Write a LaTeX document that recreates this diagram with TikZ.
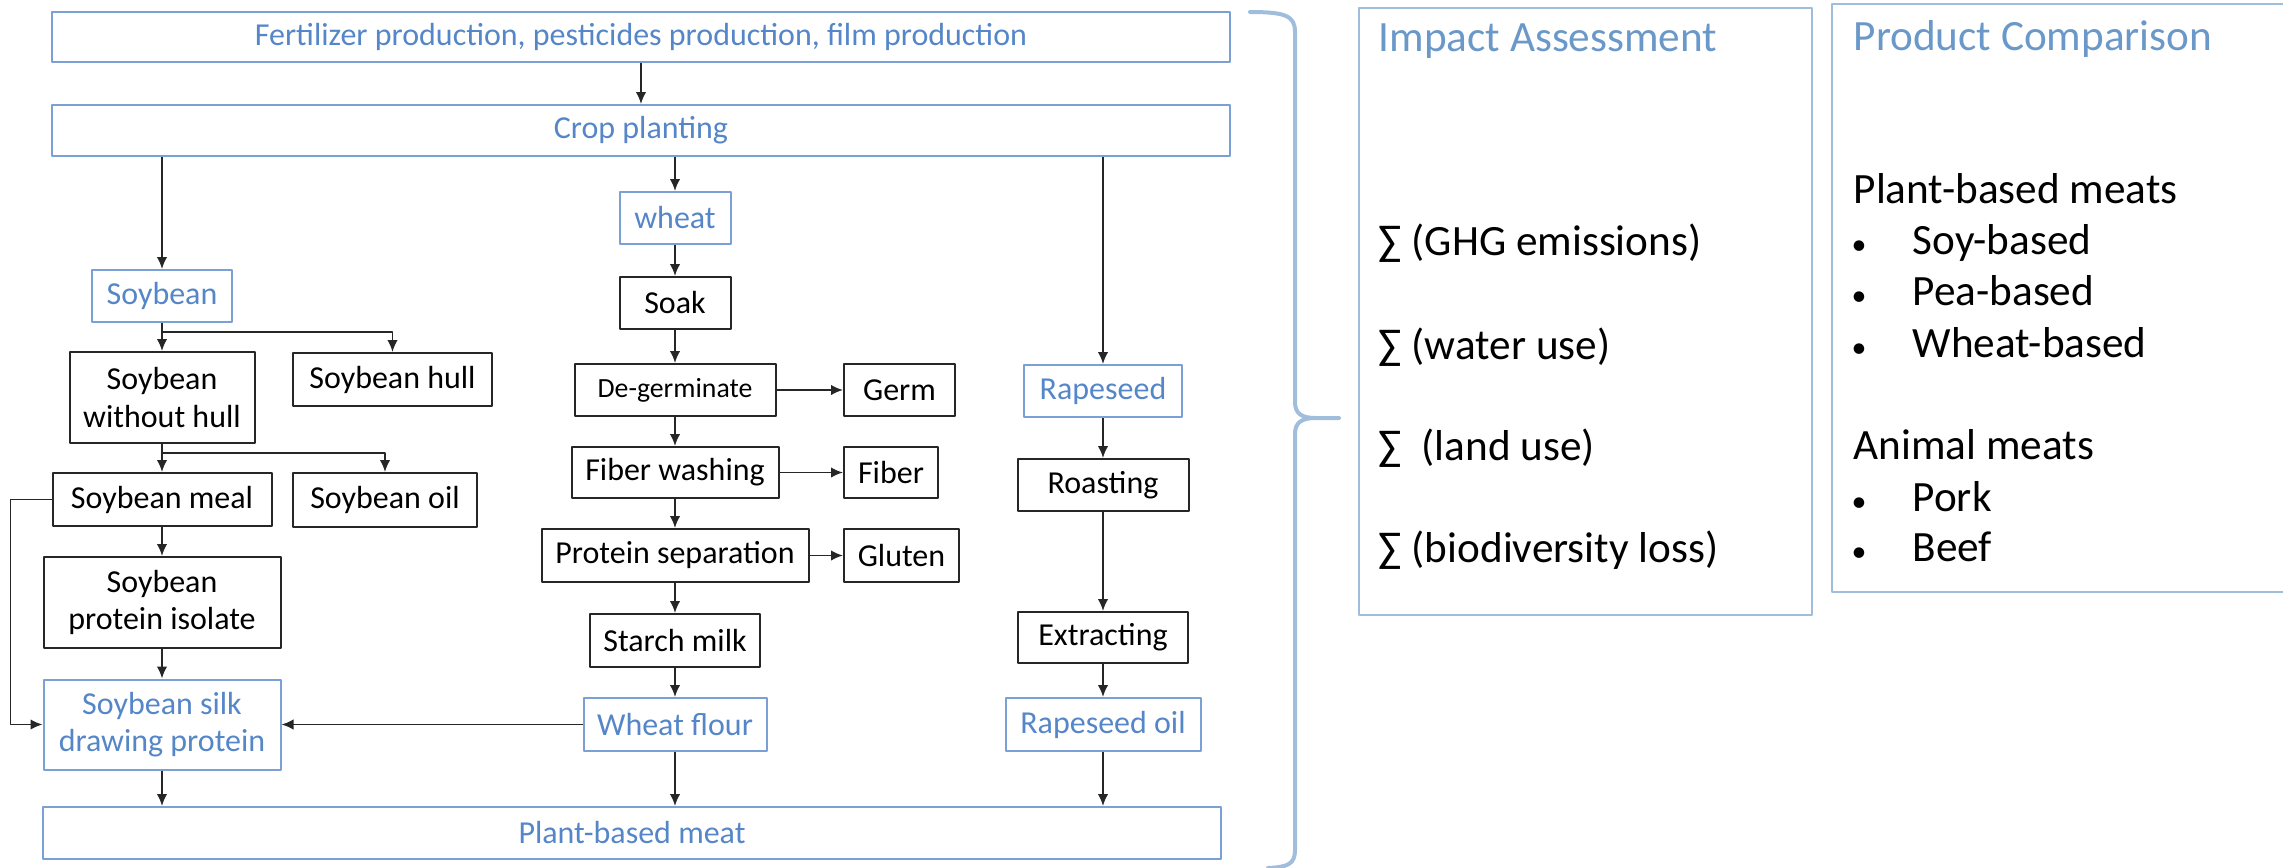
\documentclass[tikz,border=0pt]{standalone}
\usepackage{fontspec}
\setmainfont{Carlito}
\usetikzlibrary{arrows.meta}
\definecolor{flowblue}{RGB}{84,134,200}
\definecolor{lineblue}{RGB}{122,160,214}
\definecolor{panelblue}{RGB}{160,190,220}
\definecolor{titleblue}{RGB}{106,152,200}
\begin{document}
\begin{tikzpicture}[x=0.1mm, y=-0.1mm, line join=round, >={Latex[length=1.2mm,width=1.05mm]},
	box/.style={draw=black!85, line width=0.2mm, inner sep=0pt, align=center, font=\fontsize{9.1}{10.7}\selectfont},
	bluebox/.style={box, draw=lineblue, text=flowblue},
	link/.style={->, draw=black!85, line width=0.18mm},
	panel/.style={draw=panelblue, line width=0.2mm},
	item/.style={anchor=west, inner sep=0pt, text height=0.7em, text depth=0.2em, font=\fontsize{12.3}{14.5}\selectfont}]
	\useasboundingbox (0,0) rectangle (2283,868);
	% top and bottom bars
	\node[bluebox, minimum width=117.8mm, minimum height=5mm] (fert) at (641,37) {Fertilizer production, pesticides production, film production};
	\node[bluebox, minimum width=117.8mm, minimum height=5.1mm] (crop) at (641,130.5) {Crop planting};
	\node[bluebox, minimum width=117.8mm, minimum height=5.2mm] (pbm) at (632,833) {Plant-based meat};
	% soybean chain
	\node[bluebox, minimum width=14mm, minimum height=5.2mm] (soy) at (162,296) {Soybean};
	\node[box, minimum width=18.5mm, minimum height=9.1mm] (nohull) at (162,397.5) {Soybean\\without hull};
	\node[box, minimum width=19.9mm, minimum height=5.3mm] (hull) at (392.5,379.5) {Soybean hull};
	\node[box, minimum width=21.9mm, minimum height=5.3mm] (meal) at (162,499.5) {Soybean meal};
	\node[box, minimum width=18.4mm, minimum height=5.4mm] (oil) at (385,500) {Soybean oil};
	\node[box, minimum width=23.7mm, minimum height=9.1mm] (spi) at (162,602.5) {Soybean\\protein isolate};
	\node[bluebox, minimum width=23.7mm, minimum height=9mm] (silk) at (162,724.5) {Soybean silk\\drawing protein};
	% wheat chain
	\node[bluebox, minimum width=11.1mm, minimum height=5.2mm] (wheat) at (675,218) {wheat};
	\node[box, minimum width=11.1mm, minimum height=5.2mm] (soak) at (675,303) {Soak};
	\node[box, minimum width=20.1mm, minimum height=5.2mm, font=\fontsize{7.9}{9}\selectfont] (degerm) at (675,390) {De-germinate};
	\node[box, minimum width=11.1mm, minimum height=5.2mm] (germ) at (899.5,390) {Germ};
	\node[box, minimum width=20.7mm, minimum height=5.1mm] (fiberw) at (675,472.5) {Fiber washing};
	\node[box, minimum width=9.4mm, minimum height=5.1mm] (fiber) at (891,472.5) {Fiber};
	\node[box, minimum width=26.7mm, minimum height=5.3mm] (protsep) at (675,555.5) {Protein separation};
	\node[box, minimum width=11.5mm, minimum height=5.3mm] (gluten) at (901.5,555.5) {Gluten};
	\node[box, minimum width=17mm, minimum height=5.3mm] (starch) at (675,640.5) {Starch milk};
	\node[bluebox, minimum width=18.3mm, minimum height=5.3mm] (flour) at (675,724.5) {Wheat flour};
	% rapeseed chain
	\node[bluebox, minimum width=15.8mm, minimum height=5.2mm] (rape) at (1103,391) {Rapeseed};
	\node[box, minimum width=17.1mm, minimum height=5.2mm] (roast) at (1103,485) {Roasting};
	\node[box, minimum width=17mm, minimum height=5.1mm] (extract) at (1103,637.5) {Extracting};
	\node[bluebox, minimum width=19.5mm, minimum height=5.3mm] (rapeoil) at (1103,724.5) {Rapeseed oil};
	% connectors
	\draw[link] (fert) -- (crop);
	\draw[link] (crop.south -| soy) -- (soy);
	\draw[link] (crop.south -| wheat) -- (wheat);
	\draw[link] (crop.south -| rape) -- (rape);
	\draw[link] (soy) -- (nohull);
	\draw[link] (soy.south) -- ++(0,9) -| (hull);
	\draw[link] (nohull) -- (meal);
	\draw[link] (nohull.south) -- ++(0,9) -| (oil);
	\draw[link] (meal) -- (spi);
	\draw[link] (meal.west) -- ++(-41,0) |- (silk);
	\draw[link] (spi) -- (silk);
	\foreach \a/\b in {wheat/soak, soak/degerm, degerm/fiberw, fiberw/protsep, protsep/starch, starch/flour,
		degerm/germ, fiberw/fiber, protsep/gluten, flour/silk, rape/roast, roast/extract, extract/rapeoil}
		\draw[link] (\a) -- (\b);
	\foreach \a in {silk, flour, rapeoil}
		\draw[link] (\a) -- (\a |- pbm.north);
	% brace
	\draw[panelblue, line width=0.4mm, line cap=round] (1250,12) .. controls (1286,12) and (1295,16) .. (1295,32) -- (1295,402)
		.. controls (1295,414) and (1302,418) .. (1316,418) -- (1339,418);
	\draw[panelblue, line width=0.4mm, line cap=round] (1316,418) .. controls (1302,418) and (1295,422) .. (1295,434) -- (1295,850)
		.. controls (1295,864) and (1288,867) .. (1268,868);
	% impact assessment
	\draw[panel] (1359,8) rectangle (1812,615);
	\node[item, text=titleblue] (impact) at (1378,43) {Impact Assessment};
	\foreach \y/\txt [count=\i] in {247/(GHG emissions), 351/(water use), 452/\ (land use), 554/(biodiversity loss)}
		\node[item] (impact\i) at (1378,\y) {∑ \txt};
	% product comparison
	\draw[panel] (2283,4) -- (1832,4) -- (1832,592) -- (2283,592);
	\node[item, text=titleblue] (compare) at (1853,42) {Product Comparison};
	\node[item] (plant) at (1853,195) {Plant-based meats};
	\node[item] (animal) at (1853,451) {Animal meats};
	\foreach \y/\txt [count=\i] in {246/Soy-based, 297/Pea-based, 349/Wheat-based, 503/Pork, 553/Beef} {
		\node[item, anchor=center, font=\fontsize{8.5}{9}\selectfont] (dot\i) at (1859,\y) {•};
		\node[item] (meat\i) at (1912,\y) {\txt};}
\end{tikzpicture}
\end{document}
